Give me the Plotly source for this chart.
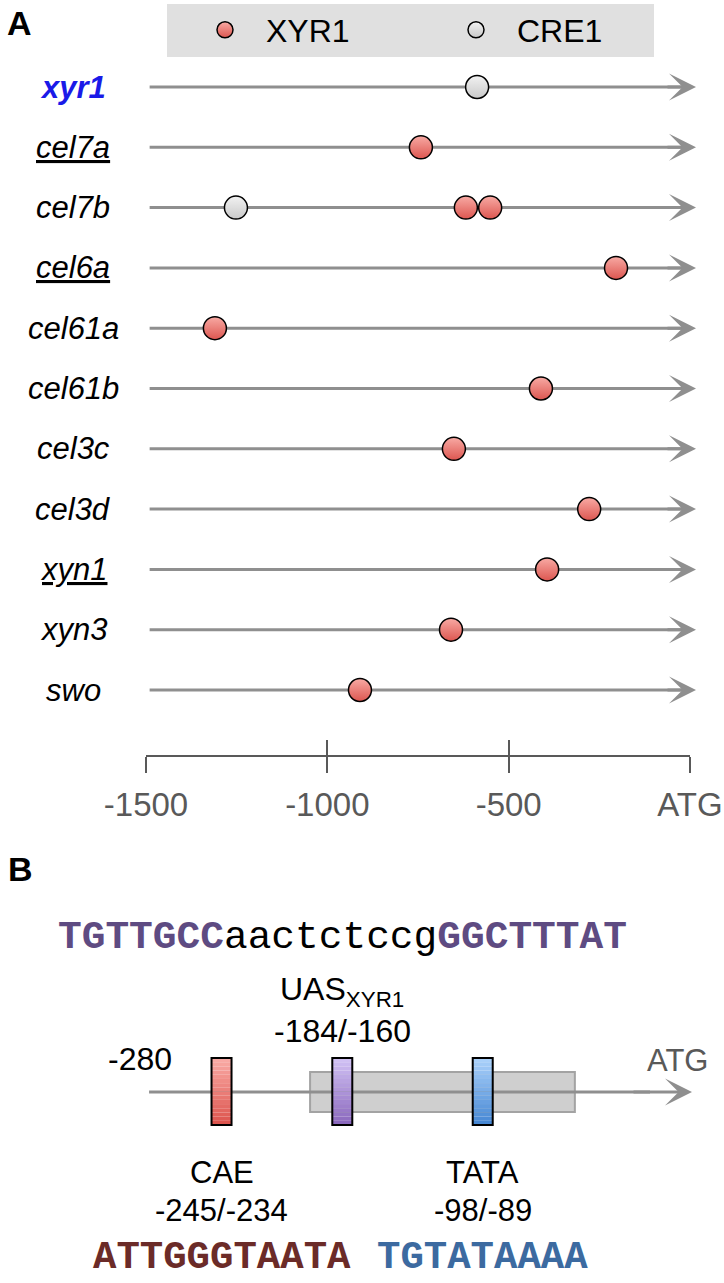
import plotly.graph_objects as go

W, H = 724, 1283

# ---------------- data: panel A ----------------
genes = ["xyr1", "cel7a", "cel7b", "cel6a", "cel61a", "cel61b",
         "cel3c", "cel3d", "xyn1", "xyn3", "swo"]
underlined_genes = ["cel7a", "cel6a", "xyn1"]
highlight_gene = "xyr1"

xyr1_site_gene = ["cel7a", "cel7b", "cel7b", "cel6a", "cel61a", "cel61b",
                  "cel3c", "cel3d", "xyn1", "xyn3", "swo"]
xyr1_site_pos = [-742, -618, -551, -204, -1310, -411, -651, -278, -394, -659, -910]
cre1_site_gene = ["xyr1", "cel7b"]
cre1_site_pos = [-587, -1252]

promoter_start = -1490
promoter_end = 0
scale_ticks = [-1500, -1000, -500, 0]
scale_labels = ["-1500", "-1000", "-500", "ATG"]

# ---------------- data: panel B ----------------
b_start = -280
b_end = 0
element_names = ["CAE", "UAS<sub>XYR1</sub>", "TATA"]
element_start = [-245, -184, -98]
element_end = [-234, -160, -89]
element_seq = ["ATTGGGTAATA", "TGTTGCCaactctccgGGCTTTAT", "TGTATAAAA"]
region_start, region_end = -190, -42

# ---------------- styles ----------------
FONT = "Liberation Sans, Arial, sans-serif"
MONO = "Liberation Mono, Courier New, monospace"
LINE_GRAY = "#8f8f8f"
AXIS_GRAY = "#595959"
elem_top = ["#faaca7", "#d2c3f5", "#acd2fb"]
elem_bot = ["#dc524b", "#8966bc", "#4486d3"]
seq_color = ["#6b2b28", "#5e4b82", "#3c6aa0"]
elem_label_above = [False, True, False]

# pixel layout of the figure
A_X0, A_X1 = 146, 690          # -1500 and ATG of the scale bar
ROW0, ROW_STEP = 87, 60.3      # first row centre and row spacing (px)
SCALE_Y = 756                  # scale bar line (px)
B_LINE_Y = 1092                # panel B line (px)
B_PPU = 1.789                  # panel B px per bp
B_ZERO_X = 650                 # panel B x of position 0


def mix(c1, c2, t):
    a = [int(c1[i:i + 2], 16) for i in (1, 3, 5)]
    b = [int(c2[i:i + 2], 16) for i in (1, 3, 5)]
    return "#" + "".join(f"{round(a[k] + (b[k] - a[k]) * t):02x}" for k in range(3))


fig = go.Figure()

# promoter lines (panel A)
lx, ly = [], []
for g in genes:
    lx += [promoter_start, promoter_end, None]
    ly += [g, g, None]
fig.add_trace(go.Scatter(x=lx, y=ly, mode="lines", line=dict(color=LINE_GRAY, width=3),
                         showlegend=False, hoverinfo="skip"))

fig.add_trace(go.Scatter(
    x=xyr1_site_pos, y=xyr1_site_gene, mode="markers", name="XYR1",
    marker=dict(size=23, color="#f8aaa4", gradient=dict(type="vertical", color="#dc5650"),
                line=dict(color="black", width=1.5))))
fig.add_trace(go.Scatter(
    x=cre1_site_pos, y=cre1_site_gene, mode="markers", name="CRE1",
    marker=dict(size=23, color="#f2f2f2", gradient=dict(type="vertical", color="#c9c9c9"),
                line=dict(color="black", width=1.5))))

# helper trace for the upper half of the scale ticks
fig.add_trace(go.Scatter(x=[], y=[], xaxis="x3", yaxis="y", showlegend=False, hoverinfo="skip"))

# panel B line
fig.add_trace(go.Scatter(x=[b_start, b_end], y=[0, 0], xaxis="x2", yaxis="y2", mode="lines",
                         line=dict(color=LINE_GRAY, width=3), showlegend=False, hoverinfo="skip"))

shapes = []
annotations = []

# legend background
shapes.append(dict(type="rect", xref="paper", yref="paper",
                   x0=167 / W, x1=654 / W, y0=1 - 57 / H, y1=1 - 4 / H,
                   fillcolor="#e0e0e0", line=dict(width=0), layer="below"))

# gene labels and arrowheads
for g in genes:
    txt = f"<i>{g}</i>"
    font = dict(family=FONT, size=31, color="black")
    if g == highlight_gene:
        txt = f"<b><i>{g}</i></b>"
        font["color"] = "#1a1ae8"
    if g in underlined_genes:
        font["lineposition"] = "under"
    annotations.append(dict(text=txt, xref="paper", yref="y", x=73 / W, y=g,
                            xanchor="center", yanchor="middle", showarrow=False, font=font))
    annotations.append(dict(text="", xref="x", yref="y", x=promoter_end, y=g,
                            ax=-30, ay=0, showarrow=True, arrowhead=3, arrowsize=1.5,
                            arrowwidth=3, arrowcolor=LINE_GRAY, standoff=0, xshift=6))

# panel B: region box
shapes.append(dict(type="rect", xref="x2", yref="y2", x0=region_start, x1=region_end,
                   ysizemode="pixel", yanchor=0, y0=-20, y1=20,
                   fillcolor="#cfcfcf", line=dict(color="#a3a3a3", width=2), layer="below"))

# panel B elements
N = 16
top, bot = 34, -33
for i, name in enumerate(element_names):
    c = (element_start[i] + element_end[i]) / 2
    for k in range(N):
        y1 = top - k * (top - bot) / N
        y0 = top - (k + 1) * (top - bot) / N
        shapes.append(dict(type="rect", xref="x2", yref="y2", xsizemode="pixel", xanchor=c,
                           x0=-10, x1=10, ysizemode="pixel", yanchor=0, y0=y0, y1=y1,
                           fillcolor=mix(elem_top[i], elem_bot[i], (k + 0.5) / N),
                           line=dict(width=0), layer="above"))
    shapes.append(dict(type="rect", xref="x2", yref="y2", xsizemode="pixel", xanchor=c,
                       x0=-10, x1=10, ysizemode="pixel", yanchor=0, y0=bot, y1=top,
                       line=dict(color="black", width=2), layer="above"))
    pos_txt = f"{element_start[i]}/{element_end[i]}"
    seq = element_seq[i]
    if elem_label_above[i]:
        annotations.append(dict(text=name, xref="x2", yref="y2", x=c, y=B_LINE_Y - 991,
                                showarrow=False, font=dict(family=FONT, size=32, color="black")))
        annotations.append(dict(text=pos_txt, xref="x2", yref="y2", x=c, y=B_LINE_Y - 1031,
                                showarrow=False, font=dict(family=FONT, size=32, color="black")))
        # mixed case sequence: uppercase = bold/coloured half-sites
        parts, cur = [], ""
        for ch in seq:
            if cur and (ch.isupper() != cur[-1].isupper()):
                parts.append(cur)
                cur = ""
            cur += ch
        parts.append(cur)
        html = ""
        for p in parts:
            if p.isupper():
                html += f"<span style='color:{seq_color[i]}'><b>{p}</b></span>"
            else:
                html += f"<span style='color:black'>{p}</span>"
        annotations.append(dict(text=html, xref="x2", yref="y2", x=c, y=B_LINE_Y - 937,
                                showarrow=False, font=dict(family=MONO, size=39.5)))
    else:
        annotations.append(dict(text=name, xref="x2", yref="y2", x=c, y=B_LINE_Y - 1172,
                                showarrow=False, font=dict(family=FONT, size=31, color="black")))
        annotations.append(dict(text=pos_txt, xref="x2", yref="y2", x=c, y=B_LINE_Y - 1210,
                                showarrow=False, font=dict(family=FONT, size=31, color="black")))
        annotations.append(dict(text=f"<b>{seq}</b>", xref="x2", yref="y2", x=c,
                                y=B_LINE_Y - 1258, showarrow=False,
                                font=dict(family=MONO, size=39, color=seq_color[i])))

# panel B ends
annotations.append(dict(text=str(b_start), xref="x2", yref="y2", x=b_start, y=B_LINE_Y - 1059,
                        xshift=-9, showarrow=False, font=dict(family=FONT, size=32, color="black")))
annotations.append(dict(text="ATG", xref="x2", yref="y2", x=b_end, y=B_LINE_Y - 1060,
                        xshift=27, showarrow=False, font=dict(family=FONT, size=31, color=AXIS_GRAY)))
annotations.append(dict(text="", xref="x2", yref="y2", x=b_end, y=0, ax=-60, ay=0,
                        showarrow=True, arrowhead=3, arrowsize=1.5, arrowwidth=3,
                        arrowcolor=LINE_GRAY, standoff=0, xshift=42))

# panel letters
annotations.append(dict(text="<b>A</b>", xref="paper", yref="paper", x=5 / W, y=1 - 23 / H,
                        xanchor="left", yanchor="middle", showarrow=False,
                        font=dict(family=FONT, size=34, color="black")))
annotations.append(dict(text="<b>B</b>", xref="paper", yref="paper", x=6 / W, y=1 - 869 / H,
                        xanchor="left", yanchor="middle", showarrow=False,
                        font=dict(family=FONT, size=34, color="black")))

y_top = -ROW0 / ROW_STEP
y_bot = (H - ROW0) / ROW_STEP
scale_pos = 1 - SCALE_Y / H

fig.update_layout(
    width=W, height=H, margin=dict(l=0, r=0, t=0, b=0, autoexpand=False),
    paper_bgcolor="white", plot_bgcolor="rgba(0,0,0,0)",
    font=dict(family=FONT),
    showlegend=True,
    legend=dict(orientation="h", x=184 / W, xanchor="left", y=1 - 30 / H, yanchor="middle",
                bgcolor="rgba(0,0,0,0)", font=dict(family=FONT, size=32, color="black"),
                entrywidth=164, entrywidthmode="pixels", itemwidth=72),
    xaxis=dict(domain=[A_X0 / W, A_X1 / W], range=[scale_ticks[0], scale_ticks[-1]],
               anchor="free", position=scale_pos, side="bottom",
               showline=True, linecolor=AXIS_GRAY, linewidth=2,
               ticks="outside", ticklen=16, tickwidth=2, tickcolor=AXIS_GRAY,
               tickmode="array", tickvals=scale_ticks, ticktext=scale_labels,
               tickfont=dict(family=FONT, size=33, color=AXIS_GRAY), ticklabelstandoff=3,
               showgrid=False, zeroline=False, fixedrange=True),
    xaxis3=dict(domain=[A_X0 / W, A_X1 / W], range=[scale_ticks[0], scale_ticks[-1]],
                overlaying="x", anchor="free", position=scale_pos, side="bottom",
                showline=False, ticks="inside", ticklen=16, tickwidth=2, tickcolor=AXIS_GRAY,
                tickmode="array", tickvals=scale_ticks, showticklabels=False,
                showgrid=False, zeroline=False, fixedrange=True),
    yaxis=dict(domain=[0, 1], type="category", categoryorder="array", categoryarray=genes,
               range=[y_bot, y_top], visible=False, fixedrange=True),
    xaxis2=dict(domain=[0, 1], anchor="y2",
                range=[-B_ZERO_X / B_PPU, (W - B_ZERO_X) / B_PPU],
                visible=False, fixedrange=True),
    yaxis2=dict(domain=[0, 1], anchor="x2", range=[-(H - B_LINE_Y), B_LINE_Y],
                visible=False, fixedrange=True),
    shapes=shapes, annotations=annotations,
)

fig.write_html("out.html", config={"displayModeBar": False},
               post_script="document.body.style.margin='0px';")
